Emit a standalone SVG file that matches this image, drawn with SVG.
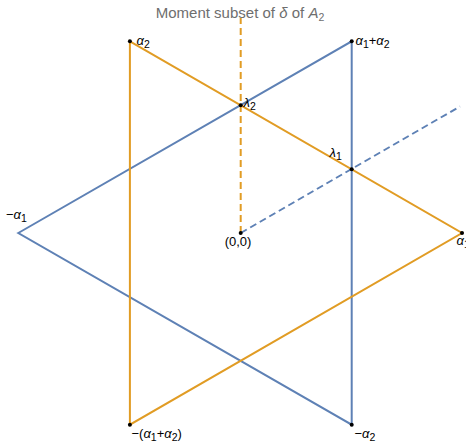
<svg xmlns="http://www.w3.org/2000/svg" width="468" height="447" viewBox="0 0 468 447">
<defs><clipPath id="edge"><rect x="0" y="0" width="466" height="447"/></clipPath></defs>
<style>
.blue{stroke:#5E81B5;stroke-width:2;fill:none}
.orange{stroke:#E19C24;stroke-width:2;fill:none}
.dash{stroke-dasharray:7,4}
.dot{fill:#000}
.lbl{font-family:"Liberation Sans",Arial,sans-serif;font-size:13px;fill:#000}
.title{font-family:"Liberation Sans",Arial,sans-serif;font-size:15px;fill:#6e6e6e}
.g{font-style:italic}
.s{font-size:10.5px}
</style>
<rect width="468" height="447" fill="#fff"/>
<text class="title" x="240" y="17.5" text-anchor="middle">Moment subset of <tspan class="g">δ</tspan> of <tspan class="g">A</tspan><tspan font-size="10.5" dy="3">2</tspan></text>
<g id="connectors">
<polygon class="blue" points="18.3,233 351.7,41.3 351.7,424.7"/>
<polygon class="orange" points="129.9,41.3 462,233 129.9,424.7"/>
<line class="orange dash" x1="240.7" y1="233" x2="240.7" y2="18"/>
<line class="blue dash" x1="240.7" y1="233" x2="460" y2="106.4"/>
</g>
<g id="n-a2"><circle class="dot" cx="129.9" cy="41.3" r="2"/><text class="lbl" x="136.5" y="45"><tspan class="g">α</tspan><tspan class="s" dy="2.5">2</tspan></text></g>
<g id="n-a1a2"><circle class="dot" cx="351.7" cy="41.3" r="2"/><text class="lbl" x="355.5" y="45"><tspan class="g">α</tspan><tspan class="s" dy="2.5">1</tspan><tspan dy="-2.5">+</tspan><tspan class="g">α</tspan><tspan class="s" dy="2.5">2</tspan></text></g>
<g id="n-l2"><circle class="dot" cx="240.7" cy="105.2" r="2"/><text class="lbl" x="243.5" y="107"><tspan class="g">λ</tspan><tspan class="s" dy="2.5">2</tspan></text></g>
<g id="n-l1"><circle class="dot" cx="351.7" cy="169.3" r="2"/><text class="lbl" x="329.5" y="157"><tspan class="g">λ</tspan><tspan class="s" dy="2.5">1</tspan></text></g>
<g id="n-ma1"><text class="lbl" x="6" y="219">−<tspan class="g">α</tspan><tspan class="s" dy="2.5">1</tspan></text></g>
<g id="n-origin"><circle class="dot" cx="240.7" cy="233" r="2"/><text class="lbl" x="238" y="246" text-anchor="middle">(0,0)</text></g>
<g id="n-a1"><circle class="dot" cx="462" cy="233" r="2"/><text class="lbl" x="456.5" y="245" clip-path="url(#edge)"><tspan class="g">α</tspan><tspan class="s" dy="2.5">1</tspan></text></g>
<g id="n-ma1a2"><circle class="dot" cx="129.9" cy="424.7" r="2"/><text class="lbl" x="131.5" y="438">−(<tspan class="g">α</tspan><tspan class="s" dy="2.5">1</tspan><tspan dy="-2.5">+</tspan><tspan class="g">α</tspan><tspan class="s" dy="2.5">2</tspan><tspan dy="-2.5">)</tspan></text></g>
<g id="n-ma2"><circle class="dot" cx="351.7" cy="424.7" r="2"/><text class="lbl" x="354.5" y="438">−<tspan class="g">α</tspan><tspan class="s" dy="2.5">2</tspan></text></g>
</svg>
